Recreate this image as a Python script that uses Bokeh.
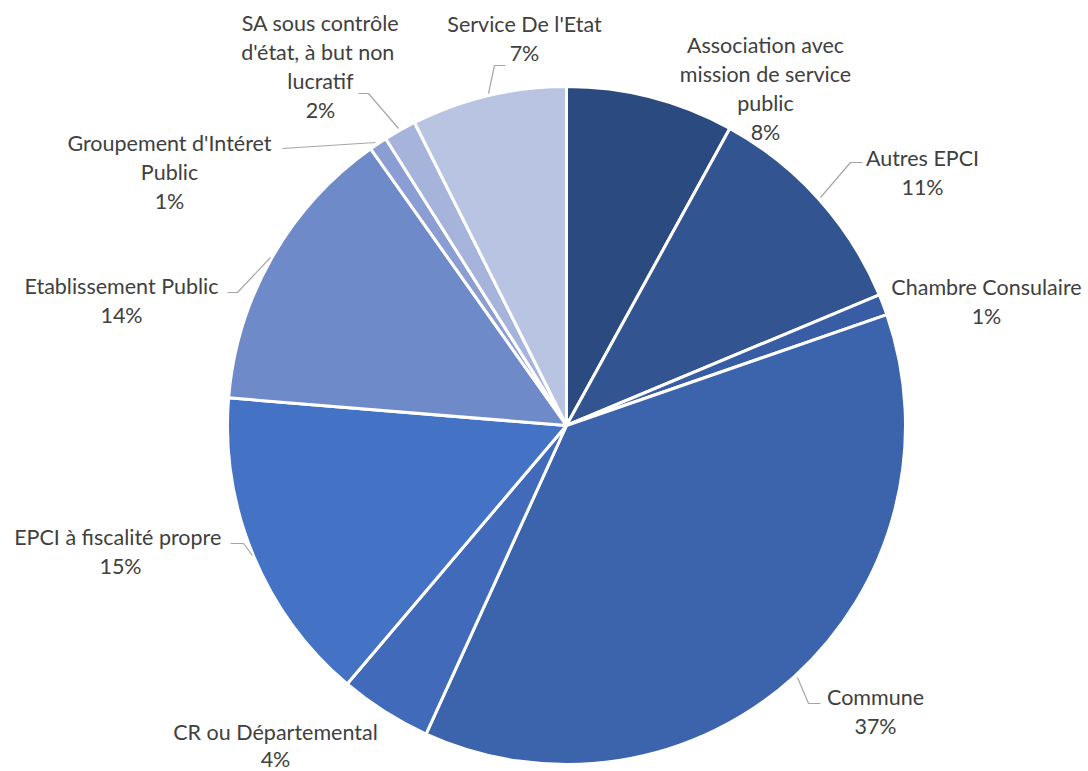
import math
from bokeh.plotting import figure
from bokeh.models import Range1d
from bokeh.core.properties import value
from bokeh.embed import file_html
from bokeh.resources import INLINE

# ---- data (clockwise from 12 o'clock) ----
categories = [
    "Association avec mission de service public",
    "Autres EPCI",
    "Chambre Consulaire",
    "Commune",
    "CR ou Départemental",
    "EPCI à  fiscalité propre",
    "Etablissement Public",
    "Groupement d'Intéret Public",
    "SA sous contrôle d'état, à  but non lucratif",
    "Service De l'Etat",
]
shares = [8.0, 10.7, 1.0, 37.1, 4.4, 15.1, 13.9, 0.85, 1.55, 7.4]
colors = ["#2B4A80", "#325592", "#395DA4", "#3C64AC", "#416BBA",
          "#4472C4", "#6F8AC9", "#8A9ED3", "#A6B3DB", "#B9C3E2"]

# label line breaks (as in the reference)
label_lines = [
    ["Association avec", "mission de service", "public"],
    ["Autres EPCI"],
    ["Chambre Consulaire"],
    ["Commune"],
    ["CR ou Départemental"],
    ["EPCI à  fiscalité propre"],
    ["Etablissement Public"],
    ["Groupement d'Intéret", "Public"],
    ["SA sous contrôle", "d'état, à  but non", "lucratif"],
    ["Service De l'Etat"],
]

# ---- layout (screen pixel coords; y measured from top) ----
W, H = 1088, 771
CX, CY, R = 566, 425, 339
# label anchor: (center x, first line center y)
label_pos = [(765, 44), (922, 157), (986, 286), (875, 696), (275, 731),
             (120, 536), (121, 285), (169, 142), (320, 22), (524, 23)]
LINE_H = 29
leaders = {
    1: [(820, 197), (850, 162), (862, 162)],
    3: [(797, 677), (808, 703), (820, 703)],
    5: [(230, 543), (243, 543), (252, 555)],
    6: [(227, 292), (237, 292), (270, 257)],
    7: [(282, 148), (375, 142)],
    8: [(358, 93), (368, 93), (398, 128)],
    9: [(505, 65), (494, 65), (488, 93)],
}

def sx(x):
    return x

def sy(y):
    return H - y

p = figure(width=W, height=H, output_backend="svg", toolbar_location=None,
           x_range=Range1d(0, W), y_range=Range1d(0, H),
           min_border=0, outline_line_color=None, background_fill_color="white",
           border_fill_color="white")
p.axis.visible = False
p.grid.visible = False

total = sum(shares)
cum = 0.0
starts, ends = [], []
for v in shares:
    a0 = math.pi / 2 - 2 * math.pi * cum / total
    cum += v
    a1 = math.pi / 2 - 2 * math.pi * cum / total
    starts.append(a0)
    ends.append(a1)

p.wedge(x=[sx(CX)] * len(shares), y=[sy(CY)] * len(shares), radius=R,
        start_angle=starts, end_angle=ends, direction="clock",
        fill_color=colors, line_color="white", line_width=3)

for i, pts in leaders.items():
    p.line([sx(a) for a, b in pts], [sy(b) for a, b in pts],
           line_color="#A6A6A6", line_width=1.2)

tx, ty, tt = [], [], []
for i, lines in enumerate(label_lines):
    x0, y0 = label_pos[i]
    allines = lines + [f"{round(shares[i])}%"]
    for k, s in enumerate(allines):
        tx.append(sx(x0))
        ty.append(sy(y0 + k * (LINE_H if i != 4 else 27)))
        tt.append(s)

p.text(x=tx, y=ty, text=tt, text_align="center", text_baseline="middle",
       text_font=value("Lato"), text_font_size="21.5px", text_color="#404040")

open("out.html", "w").write(file_html(p, INLINE))
